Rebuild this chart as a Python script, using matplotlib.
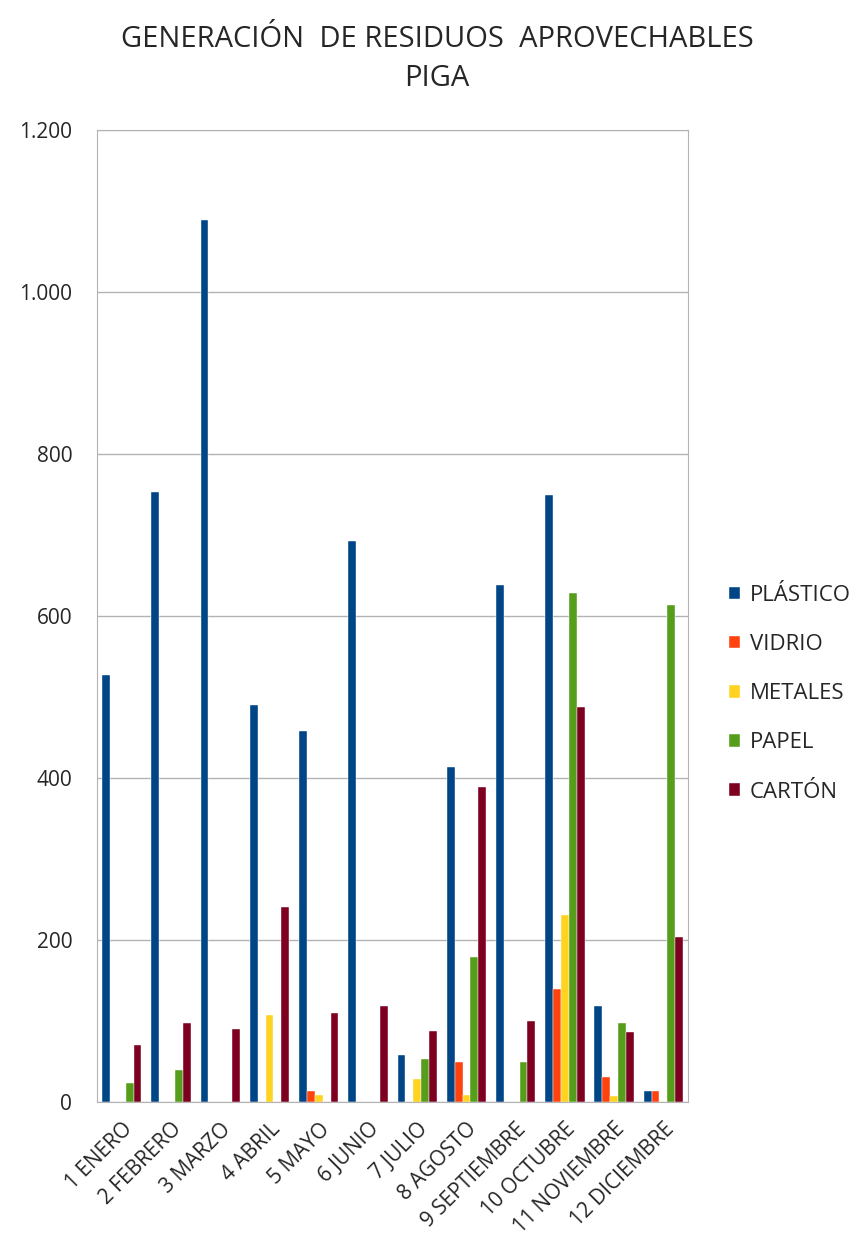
import numpy as np
import matplotlib
matplotlib.use("Agg")
import matplotlib.pyplot as plt
from matplotlib.ticker import FuncFormatter

plt.rcParams['font.family'] = ['Open Sans', 'DejaVu Sans']

meses = ['1 ENERO', '2 FEBRERO', '3 MARZO', '4 ABRIL', '5 MAYO', '6 JUNIO',
         '7 JULIO', '8 AGOSTO', '9 SEPTIEMBRE', '10 OCTUBRE', '11 NOVIEMBRE',
         '12 DICIEMBRE']

plastico = [527, 753, 1089, 490, 458, 693, 58, 414, 638, 749, 118, 14]
vidrio = [0, 0, 0, 0, 14, 0, 0, 49, 0, 140, 31, 14]
metales = [0, 0, 0, 107, 9, 0, 29, 9, 0, 231, 7, 0]
papel = [24, 39, 0, 0, 0, 0, 53, 179, 49, 628, 98, 614]
carton = [71, 98, 90, 241, 110, 118, 88, 389, 100, 488, 86, 204]

series = [('PLÁSTICO', plastico, '#004586'),
          ('VIDRIO', vidrio, '#ff420e'),
          ('METALES', metales, '#ffd320'),
          ('PAPEL', papel, '#579d1c'),
          ('CARTÓN', carton, '#7e0021')]

texto = '#262626'

fig = plt.figure(figsize=(8.6, 12.56), dpi=100)
ax = fig.add_axes([0.113, 0.1226, 0.687, 0.7739])

x = np.arange(len(meses))
w = 0.16
for i, (nombre, vals, color) in enumerate(series):
    ax.bar(x - 2 * w + i * w, vals, width=w, color=color, label=nombre,
           edgecolor='white', linewidth=0.3)

ax.set_xlim(-0.5, len(meses) - 0.5)
ax.set_ylim(0, 1200)
ax.set_yticks(range(0, 1201, 200))
ax.yaxis.set_major_formatter(FuncFormatter(lambda v, p: f'{int(v):,}'.replace(',', '.')))
ax.grid(axis='y', color='#b3b3b3', linewidth=1)
ax.set_axisbelow(True)
for s in ax.spines.values():
    s.set_color('#b3b3b3')
ax.tick_params(length=0, labelsize=15, colors=texto)
ax.tick_params(axis='y', pad=18)
ax.set_xticks(x)
ax.set_xticklabels(meses, rotation=45, ha='right', rotation_mode='anchor')
ax.tick_params(axis='x', pad=12)

fig.text(0.508, 0.98, 'GENERACIÓN  DE RESIDUOS  APROVECHABLES\nPIGA',
         ha='center', va='top', fontsize=21, linespacing=1.45, color=texto)

ax.legend(loc='center left', bbox_to_anchor=(1.035, 0.42), frameon=False,
          fontsize=16, handlelength=0.5, handleheight=0.5,
          handletextpad=0.45, labelspacing=1.27, labelcolor=texto)

fig.savefig('out.png', dpi=100)
